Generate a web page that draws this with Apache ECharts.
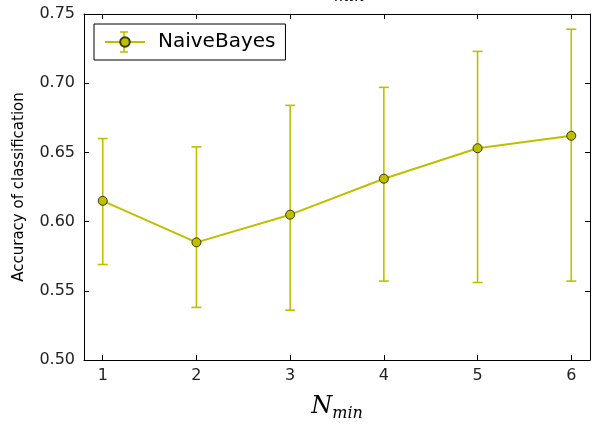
<!DOCTYPE html>
<html>
<head>
<meta charset="utf-8">
<script src="https://cdn.jsdelivr.net/npm/echarts@6/dist/echarts.min.js"></script>
<style>html,body{margin:0;padding:0;background:#fff;}#chart{width:594px;height:430px;}</style>
</head>
<body>
<div id="chart"></div>
<script>
var seriesName = 'NaiveBayes';
var nMin = [1, 2, 3, 4, 5, 6];
var accuracy = [0.615, 0.585, 0.605, 0.631, 0.653, 0.662];
var errLow = [0.569, 0.538, 0.536, 0.557, 0.556, 0.557];
var errHigh = [0.660, 0.654, 0.684, 0.697, 0.723, 0.739];
var xTicks = [1, 2, 3, 4, 5, 6];
var yTicks = [0.50, 0.55, 0.60, 0.65, 0.70, 0.75];

var COLOR = '#bfbf00';
var FONT = 'DejaVu Sans';

var lineData = nMin.map(function (x, i) { return [x, accuracy[i]]; });
var errData = nMin.map(function (x, i) { return [x, errLow[i], errHigh[i]]; });

var chart = echarts.init(document.getElementById('chart'), null, {renderer: 'canvas'});

var nameRich = {
  N: {fontFamily: 'DejaVu Serif', fontStyle: 'italic', fontSize: 24, color: '#000'},
  m: {fontFamily: 'DejaVu Serif', fontStyle: 'italic', fontSize: 16, color: '#000', padding: [14, 0, 0, 0]}
};

var legStroke = {stroke: COLOR, lineWidth: 1.6};

var option = {
  backgroundColor: '#fff',
  animation: false,
  grid: {left: 84, right: 4, top: 14, bottom: 70},
  legend: {
    data: [seriesName],
    left: 94, top: 24,
    orient: 'vertical',
    padding: [8, 10, 8, 10],
    borderColor: '#000', borderWidth: 1, borderRadius: 0,
    itemWidth: 40, itemHeight: 12,
    textStyle: {fontFamily: FONT, fontSize: 20, color: '#000', padding: [0, 0, 0, 8]}
  },
  graphic: [{
    type: 'text', left: 313, top: -22,
    style: {text: '{N|N}{m|min}', rich: nameRich}
  }, {
    type: 'group', z: 3,
    children: [
      {type: 'line', shape: {x1: 124, y1: 32, x2: 124, y2: 52}, style: legStroke},
      {type: 'line', shape: {x1: 120, y1: 32, x2: 128, y2: 32}, style: legStroke},
      {type: 'line', shape: {x1: 120, y1: 52, x2: 128, y2: 52}, style: legStroke}
    ]
  }],
  xAxis: [{
    type: 'value', min: 0.8, max: 6.2,
    position: 'bottom',
    name: '{N|N}{m|min}', nameLocation: 'middle', nameGap: 32,
    nameTextStyle: {rich: nameRich},
    axisLine: {show: true, onZero: false, lineStyle: {color: '#000', width: 1}},
    axisTick: {show: true, inside: true, length: 5, customValues: xTicks, lineStyle: {color: '#000'}},
    axisLabel: {show: true, customValues: xTicks, margin: 8, fontFamily: FONT, fontSize: 16, color: '#222'},
    splitLine: {show: false}
  }, {
    type: 'value', min: 0.8, max: 6.2,
    position: 'top',
    axisLine: {show: true, onZero: false, lineStyle: {color: '#000', width: 1}},
    axisTick: {show: true, inside: true, length: 5, customValues: xTicks, lineStyle: {color: '#000'}},
    axisLabel: {show: false},
    splitLine: {show: false}
  }],
  yAxis: [{
    type: 'value', min: 0.5, max: 0.75, interval: 0.05,
    position: 'left',
    name: 'Accuracy of classification', nameLocation: 'middle', nameGap: 57,
    nameTextStyle: {fontFamily: FONT, fontSize: 15, color: '#000'},
    axisLine: {show: true, onZero: false, lineStyle: {color: '#000', width: 1}},
    axisTick: {show: true, inside: true, length: 5, lineStyle: {color: '#000'}},
    axisLabel: {show: true, margin: 9, fontFamily: FONT, fontSize: 16, color: '#222',
      formatter: function (v) { return v.toFixed(2); }},
    splitLine: {show: false}
  }, {
    type: 'value', min: 0.5, max: 0.75, interval: 0.05,
    position: 'right',
    axisLine: {show: true, onZero: false, lineStyle: {color: '#000', width: 1}},
    axisTick: {show: true, inside: true, length: 5, lineStyle: {color: '#000'}},
    axisLabel: {show: false},
    splitLine: {show: false}
  }],
  series: [{
    name: seriesName + '_err',
    type: 'custom',
    z: 2,
    data: errData,
    encode: {x: 0, y: [1, 2]},
    renderItem: function (params, api) {
      var x = api.value(0);
      var lo = api.coord([x, api.value(1)]);
      var hi = api.coord([x, api.value(2)]);
      var hw = 5;
      var st = {stroke: COLOR, lineWidth: 1.6};
      return {
        type: 'group',
        children: [
          {type: 'line', shape: {x1: lo[0], y1: lo[1], x2: hi[0], y2: hi[1]}, style: st},
          {type: 'line', shape: {x1: hi[0] - hw, y1: hi[1], x2: hi[0] + hw, y2: hi[1]}, style: st},
          {type: 'line', shape: {x1: lo[0] - hw, y1: lo[1], x2: lo[0] + hw, y2: lo[1]}, style: st}
        ]
      };
    }
  }, {
    name: seriesName,
    type: 'line',
    z: 3,
    data: lineData,
    symbol: 'circle',
    symbolSize: 9,
    lineStyle: {color: COLOR, width: 2},
    itemStyle: {color: COLOR, borderColor: '#3a3a00', borderWidth: 1}
  }]
};
chart.setOption(option);
</script>
</body>
</html>
